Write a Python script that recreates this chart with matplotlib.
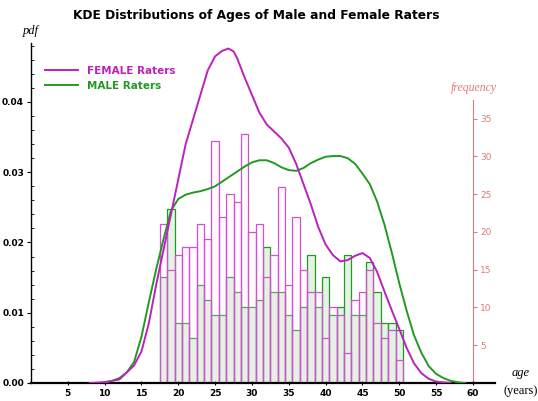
import numpy as np
import matplotlib.pyplot as plt
from matplotlib.lines import Line2D

# histogram counts per year of age (1-year bins)
ages = np.arange(18, 51)
female_counts = [21, 15, 17, 18, 18, 21, 19, 32, 22, 25, 24, 33, 20, 21, 14, 17, 26,
                 13, 22, 15, 12, 12, 6, 10, 9, 4, 11, 12, 15, 8, 6, 7, 3]
male_counts = [14, 23, 8, 8, 6, 13, 11, 9, 9, 14, 12, 10, 10, 11, 18, 12, 12,
               9, 7, 10, 17, 10, 14, 9, 10, 17, 9, 9, 16, 12, 8, 8, 7]

# KDE curves
f_age = [8, 10, 12, 14, 15, 16, 17, 18, 19, 20, 21, 22, 23, 24, 25, 26, 26.8, 27.5,
         28, 29, 30, 31, 32, 33, 34, 35, 36, 37, 38, 39, 40, 41, 42, 43, 44, 45, 46,
         47, 48, 49, 50, 51, 52, 53, 54, 55, 57]
f_pdf = [0, 0.0001, 0.0005, 0.0025, 0.0045, 0.0085, 0.014, 0.019, 0.024, 0.029,
         0.034, 0.0375, 0.041, 0.0445, 0.0465, 0.0473, 0.0476, 0.0472, 0.0462, 0.0435,
         0.041, 0.0385, 0.0368, 0.0358, 0.0348, 0.0335, 0.0312, 0.0283, 0.0254, 0.0222,
         0.0197, 0.0182, 0.0173, 0.0175, 0.0181, 0.0185, 0.0178, 0.0158, 0.013, 0.0103,
         0.0077, 0.005, 0.0028, 0.0014, 0.0006, 0.0002, 0]
m_age = [9, 10, 11, 12, 13, 14, 15, 16, 17, 18, 19, 20, 21, 22, 23, 24, 25, 26, 27,
         28, 29, 30, 31, 32, 33, 34, 35, 36, 37, 38, 39, 40, 41, 42, 43, 44, 45, 46,
         47, 48, 49, 50, 51, 52, 53, 54, 55, 56, 57, 58, 59]
m_pdf = [0, 0.0001, 0.0003, 0.0007, 0.0015, 0.003, 0.0066, 0.0115, 0.0162, 0.0205,
         0.0245, 0.0262, 0.0268, 0.0271, 0.0273, 0.0276, 0.028, 0.0287, 0.0294, 0.0301,
         0.0308, 0.0314, 0.0317, 0.0317, 0.0313, 0.0307, 0.0303, 0.0302, 0.0306, 0.0313,
         0.0318, 0.0322, 0.0323, 0.0323, 0.032, 0.0312, 0.0298, 0.0283, 0.0258, 0.0225,
         0.0185, 0.0142, 0.0103, 0.0068, 0.0043, 0.0024, 0.0013, 0.0007, 0.0003, 0.0001, 0]

FEMALE = "#bb22bb"
MALE = "#229922"
FREQ = "#e07a7a"
FREQ_PER_PDF = 930.0  # frequency units per pdf unit on the shared scale

fig = plt.figure(figsize=(5.38, 4.01), dpi=100)
ax = fig.add_axes([0.0576, 0.0449, 0.8625, 0.848])

# bars are drawn on the pdf scale, converted from counts
ax.bar(ages, np.array(male_counts) / FREQ_PER_PDF, width=1.0, facecolor="#e4f3e4",
       edgecolor=MALE, linewidth=0.9, zorder=1)
ax.bar(ages, np.array(female_counts) / FREQ_PER_PDF, width=1.0,
       facecolor=(1.0, 0.88, 1.0, 0.22), edgecolor="#cc55cc", linewidth=0.9, zorder=2)

ax.plot(m_age, m_pdf, color=MALE, lw=1.4, zorder=3)
ax.plot(f_age, f_pdf, color=FEMALE, lw=1.4, zorder=4)

ax.set_xlim(0, 63)
ax.set_ylim(0, 0.0484)
for s in ["top", "right"]:
    ax.spines[s].set_visible(False)
ax.spines["bottom"].set_linewidth(1.6)
ax.spines["left"].set_linewidth(1.0)
ax.set_xticks(range(5, 61, 5))
ax.set_yticks([0, 0.01, 0.02, 0.03, 0.04])
ax.set_yticks(np.arange(0, 0.0481, 0.002), minor=True)
ax.set_yticklabels(["0.00", "0.01", "0.02", "0.03", "0.04"])
ax.tick_params(axis="both", labelsize=6.5, width=0.8)
ax.tick_params(axis="x", direction="inout", length=3, pad=3)
ax.tick_params(axis="y", which="major", direction="out", length=3, pad=2)
ax.tick_params(axis="y", which="minor", direction="in", length=2)
for lab in ax.get_xticklabels() + ax.get_yticklabels():
    lab.set_fontweight("bold")

# frequency axis sitting at age 60
sec = ax.secondary_yaxis(60 / 63, functions=(lambda p: p * FREQ_PER_PDF,
                                             lambda f: f / FREQ_PER_PDF))
sec.set_yticks([5, 10, 15, 20, 25, 30, 35])
sec.spines["right"].set_color(FREQ)
sec.spines["right"].set_bounds(0, 37.4)
sec.tick_params(axis="y", colors=FREQ, labelsize=6.5, length=3, pad=2)

serif = "Liberation Serif"
fig.text(0.058, 0.915, "pdf", family=serif, style="italic", fontsize=9, ha="center")
fig.text(0.88, 0.772, "frequency", family=serif, style="italic", fontsize=8.5,
         color=FREQ, ha="center")
fig.text(0.968, 0.062, "age", family=serif, style="italic", fontsize=9, ha="center")
fig.text(0.968, 0.017, "(years)", family=serif, fontsize=9, ha="center")

fig.text(0.477, 0.952, "KDE Distributions of Ages of Male and Female Raters",
         fontsize=8.8, fontweight="bold", ha="center")

handles = [Line2D([], [], color=FEMALE, lw=1.4), Line2D([], [], color=MALE, lw=1.4)]
leg = ax.legend(handles, ["FEMALE Raters", "MALE Raters"], loc="upper left",
                bbox_to_anchor=(0.01, 0.96), frameon=False, handlelength=3.2,
                prop={"weight": "bold", "size": 7.5}, labelspacing=0.45)
for txt, c in zip(leg.get_texts(), [FEMALE, MALE]):
    txt.set_color(c)

fig.savefig("out.png", dpi=100)
